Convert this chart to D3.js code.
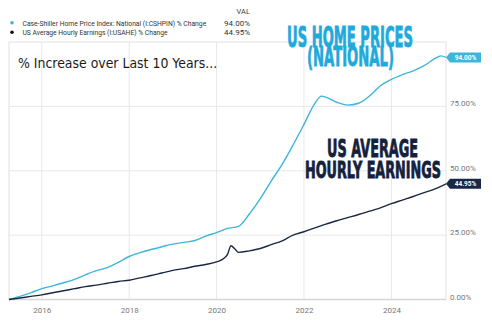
<!DOCTYPE html>
<html><head><meta charset="utf-8">
<script src="https://cdn.jsdelivr.net/npm/d3@7/dist/d3.min.js"></script>
<style>
html,body{margin:0;padding:0;background:#fff;}
svg{display:block;}
</style></head>
<body>
<script>
const seriesNames = ["Case-Shiller Home Price Index: National (I:CSHPIN) % Change", "US Average Hourly Earnings (I:USAHE) % Change"];
const lastValues = ["94.00%", "44.95%"];
const xTicks = [2016, 2018, 2020, 2022, 2024];
const yTicks = [0, 25, 50, 75];

const homeDates = [2015.25,2015.5,2015.75,2016.0,2016.25,2016.5,2016.75,2017.0,2017.25,2017.5,2017.75,2018.0,2018.25,2018.5,2018.75,2019.0,2019.25,2019.5,2019.75,2020.0,2020.25,2020.5,2020.75,2021.0,2021.25,2021.5,2021.75,2022.0,2022.25,2022.4,2022.5,2022.75,2023.0,2023.25,2023.5,2023.75,2024.0,2024.25,2024.5,2024.75,2025.0,2025.13,2025.25];
const homeValues = [0,1.2,2.6,4.2,5.3,6.5,7.8,9.6,11.2,12.4,14.4,16.7,18.2,19.4,20.5,21.5,22.2,22.9,24.6,26.0,27.6,28.4,33.2,39.2,46,52.5,60,68,76.2,79,78.6,76.6,75.5,76.2,79,83,85.5,87.3,88.8,90.8,93.6,94.6,94.0];

const wageDates = [2015.25,2015.5,2015.75,2016.0,2016.25,2016.5,2016.75,2017.0,2017.25,2017.5,2017.75,2018.0,2018.25,2018.5,2018.75,2019.0,2019.25,2019.5,2019.75,2020.0,2020.17,2020.25,2020.33,2020.42,2020.5,2020.75,2021.0,2021.25,2021.5,2021.75,2022.0,2022.25,2022.5,2022.75,2023.0,2023.25,2023.5,2023.75,2024.0,2024.25,2024.5,2024.75,2025.0,2025.25];
const wageValues = [0,0.6,1.2,1.8,2.6,3.4,4.2,5.0,5.6,6.3,7.0,7.5,8.4,9.3,10.3,11.3,12.0,12.9,13.6,14.6,16.0,17.5,20.9,19.6,18.3,18.9,19.8,21.3,22.8,25,26.3,27.8,29.3,30.6,31.8,33,34.3,35.6,37.2,38.6,40,41.5,43,44.95];

const W = 492, H = 325;
const cyan = "#3db6d9", navy = "#1b2843";
const titleCyan = "#1fa9dc", titleNavy = "#14213d";

const svg = d3.select("body").append("svg").attr("width", W).attr("height", H);

const x = d3.scaleLinear().domain([2015.25, 2025.25]).range([9, 446]);
const y = d3.scaleLinear().domain([0, 100]).range([299.5, 42]);

// grid
const g = svg.append("g");
g.selectAll(".vg").data(xTicks).join("line")
  .attr("x1", d => x(d)).attr("x2", d => x(d)).attr("y1", 42).attr("y2", 299.5)
  .attr("stroke", "#e8e8e8").attr("stroke-width", 1);
g.selectAll(".hg").data(yTicks.filter(d => d > 0)).join("line")
  .attr("x1", 9).attr("x2", 446).attr("y1", d => y(d)).attr("y2", d => y(d))
  .attr("stroke", "#e8e8e8").attr("stroke-width", 1);
g.append("rect").attr("x", 9).attr("y", 42).attr("width", 437).attr("height", 257.5)
  .attr("fill", "none").attr("stroke", "#e2e2e2");
g.append("line").attr("x1", 9).attr("x2", 446).attr("y1", 299.5).attr("y2", 299.5)
  .attr("stroke", "#d6d6d6").attr("stroke-width", 1.5);

// axes
const xAxis = svg.append("g").attr("transform", "translate(0,300)")
  .call(d3.axisBottom(x).tickValues(xTicks).tickFormat(d3.format("d")).tickSize(0).tickPadding(7));
xAxis.select(".domain").remove();
xAxis.selectAll("text").attr("fill", "#777").attr("font-size", 8).attr("font-family", "Roboto");

const yAxis = svg.append("g").attr("transform", "translate(450,0)")
  .call(d3.axisRight(y).tickValues(yTicks).tickFormat(d => d.toFixed(2) + "%").tickSize(0).tickPadding(0));
yAxis.select(".domain").remove();
yAxis.selectAll("text").attr("fill", "#777").attr("font-size", 8).attr("font-family", "Roboto").attr("dy", "-0.05em");

// lines
const line = d3.line().x(d => x(d[0])).y(d => y(d[1])).curve(d3.curveMonotoneX);
const homeData = homeDates.map((d, i) => [d, homeValues[i]]);
const wageData = wageDates.map((d, i) => [d, wageValues[i]]);
svg.append("path").datum(homeData).attr("d", line).attr("fill", "none").attr("stroke", cyan).attr("stroke-width", 1.4);
svg.append("path").datum(wageData).attr("d", line).attr("fill", "none").attr("stroke", navy).attr("stroke-width", 1.4);

// end labels
function endLabel(val, text, color) {
  const cy = y(val);
  const lg = svg.append("g");
  lg.append("path").attr("d", `M446,${cy} L450,${cy-5} L481,${cy-5} L481,${cy+5} L450,${cy+5} Z`).attr("fill", color);
  lg.append("text").attr("x", 465.5).attr("y", cy + 2.4).attr("text-anchor", "middle")
    .attr("fill", "#fff").attr("font-size", 6.5).attr("font-weight", "bold").attr("font-family", "Roboto").text(text);
}
endLabel(homeValues[homeValues.length - 1], lastValues[0], cyan);
endLabel(wageValues[wageValues.length - 1], lastValues[1], navy);

// squeeze helper: draws text then scales it horizontally to fit [x0, x1]
function fitText(sel, txt, x0, x1, baseline) {
  const t = sel.append("text").attr("x", 0).attr("y", 0).text(txt);
  const w = t.node().getComputedTextLength();
  t.attr("transform", `translate(${x0},${baseline}) scale(${(x1 - x0) / w},1)`);
  return t;
}

// legend
const leg = svg.append("g").attr("font-family", "Roboto").attr("font-size", 8).attr("fill", "#333");
leg.append("text").attr("x", 250).attr("y", 14).attr("text-anchor", "end").attr("font-size", 7.5).attr("fill", "#444").text("VAL");
[cyan, navy].forEach((c, i) => {
  const yy = 22.8 + i * 9.4;
  leg.append("circle").attr("cx", 12).attr("cy", yy).attr("r", 1.8).attr("fill", i === 0 ? cyan : "#111");
  fitText(leg, seriesNames[i], 22.5, i === 0 ? 206.5 : 168, yy + 2.8);
  leg.append("text").attr("x", 250).attr("y", yy + 2.8).attr("text-anchor", "end").text(lastValues[i]);
});

// annotations
function bigText(txt, x0, x1, baseline, size, color) {
  const t = fitText(svg, txt, x0, x1, baseline);
  t.attr("font-family", "DejaVu Sans").attr("font-weight", "bold")
   .attr("font-size", size).attr("fill", color).attr("stroke", color).attr("stroke-width", 0.9);
  const w = t.node().getComputedTextLength();
  t.attr("transform", `translate(${x0},${baseline}) scale(${(x1 - x0) / w},1)`);
}
bigText("US HOME PRICES", 287, 413, 47, 27.5, titleCyan);
bigText("(NATIONAL)", 307, 394, 66, 27, titleCyan);
bigText("US AVERAGE", 327, 418, 157, 24.5, titleNavy);
bigText("HOURLY EARNINGS", 305, 441, 178, 23, titleNavy);

const sub = fitText(svg, "% Increase over Last 10 Years...", 18, 217, 68);
sub.attr("font-family", "DejaVu Sans").attr("font-size", 13.5).attr("fill", "#1a1a1a");
{
  const w = sub.node().getComputedTextLength();
  sub.attr("transform", `translate(18,68) scale(${199 / w},1)`);
}
</script>
</body></html>
